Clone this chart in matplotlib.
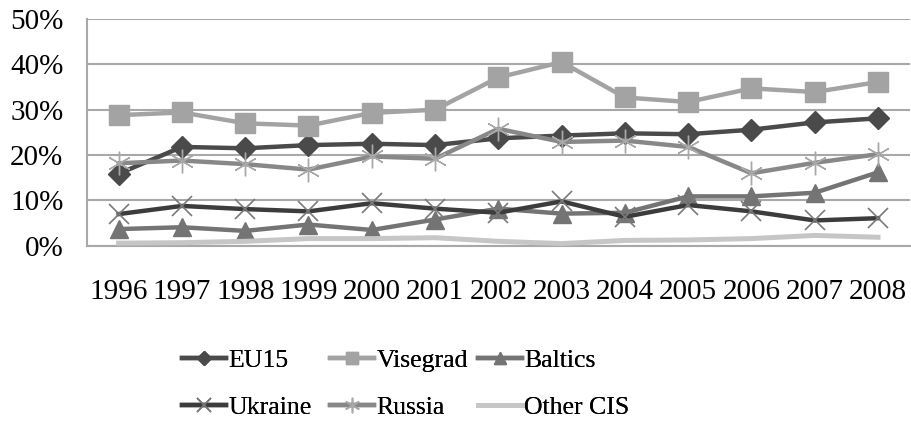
import matplotlib
matplotlib.use("Agg")
import matplotlib.pyplot as plt
from matplotlib.ticker import FuncFormatter

years = ["1996", "1997", "1998", "1999", "2000", "2001", "2002",
         "2003", "2004", "2005", "2006", "2007", "2008"]
eu15 = [15.9, 21.8, 21.5, 22.2, 22.5, 22.2, 23.7, 24.3, 24.8, 24.6, 25.6, 27.2, 28.1]
visegrad = [28.8, 29.4, 27.0, 26.5, 29.3, 30.0, 37.1, 40.5, 32.7, 31.7, 34.7, 33.9, 36.1]
baltics = [3.7, 4.1, 3.3, 4.7, 3.5, 5.8, 8.2, 7.1, 7.3, 10.9, 10.9, 11.7, 16.2]
ukraine = [7.0, 8.8, 8.1, 7.6, 9.4, 8.2, 7.3, 9.8, 6.4, 9.0, 7.6, 5.6, 6.1]
russia = [18.2, 18.8, 18.0, 16.8, 19.7, 19.2, 25.8, 22.9, 23.2, 21.8, 16.0, 18.3, 20.2]
other_cis = [0.6, 0.7, 1.0, 1.6, 1.6, 1.8, 1.0, 0.5, 1.2, 1.3, 1.6, 2.3, 1.9]
yticks = [0, 10, 20, 30, 40, 50]

plt.rcParams['font.family'] = ['Liberation Serif', 'DejaVu Serif']

fig = plt.figure(figsize=(9.11, 4.21), dpi=100)
ax = fig.add_axes([0.0955, 0.416, 0.903, 0.539])
x = list(range(len(years)))

lw = 3.2
h_eu, = ax.plot(x, eu15, color='#4a4a4a', lw=lw, marker='D', ms=11, mfc='#4a4a4a', mec='#4a4a4a', label='EU15', zorder=3)
h_vi, = ax.plot(x, visegrad, color='#a3a3a3', lw=lw, marker='s', ms=14, mfc='#a3a3a3', mec='#a3a3a3', label='Visegrad', zorder=3)
h_ba, = ax.plot(x, baltics, color='#747474', lw=lw, marker='^', ms=13, mfc='#747474', mec='#747474', label='Baltics', zorder=3)
h_uk, = ax.plot(x, ukraine, color='#3c3c3c', lw=lw, marker='x', ms=15, mew=1.2, mec='#7a7a7a', label='Ukraine', zorder=3)
h_ru, = ax.plot(x, russia, color='#888888', lw=lw, marker=(6, 2, 0), ms=17, mew=1.0, mec='#a8a8a8', label='Russia', zorder=3)
h_ot, = ax.plot(x, other_cis, color='#c6c6c6', lw=3.6, label='Other CIS', zorder=3)

ax.set_xlim(-0.5, len(years) - 0.5)
ax.set_ylim(0, 50)
ax.set_yticks(yticks)
ax.yaxis.set_major_formatter(FuncFormatter(lambda v, p: f"{int(v)}%"))
ax.set_xticks(x)
ax.set_xticklabels(years)
ax.tick_params(axis='both', length=0, labelsize=21, colors='black')
ax.tick_params(axis='x', pad=24)
ax.tick_params(axis='y', pad=17)
ax.grid(axis='y', color='#a8a8a8', lw=1.5)
ax.set_axisbelow(True)
for s in ['top', 'right']:
    ax.spines[s].set_visible(False)
ax.spines['left'].set_color('#a8a8a8')
ax.spines['left'].set_linewidth(1.5)
ax.spines['bottom'].set_color('#a8a8a8')
ax.spines['bottom'].set_linewidth(1.5)

cols = [([h_eu, h_uk], 182), ([h_vi, h_ru], 330), ([h_ba, h_ot], 478)]
for hs, xpx in cols:
    leg = fig.legend(hs, [h.get_label() for h in hs], loc='center left',
                     bbox_to_anchor=(xpx / 911, 1 - 384 / 421), ncol=1,
                     frameon=False, fontsize=18.5, handlelength=1.7, handletextpad=0.1,
                     labelspacing=0.95, markerscale=0.65, borderpad=0, borderaxespad=0)
    fig.add_artist(leg)

fig.savefig("out.png", dpi=100)
